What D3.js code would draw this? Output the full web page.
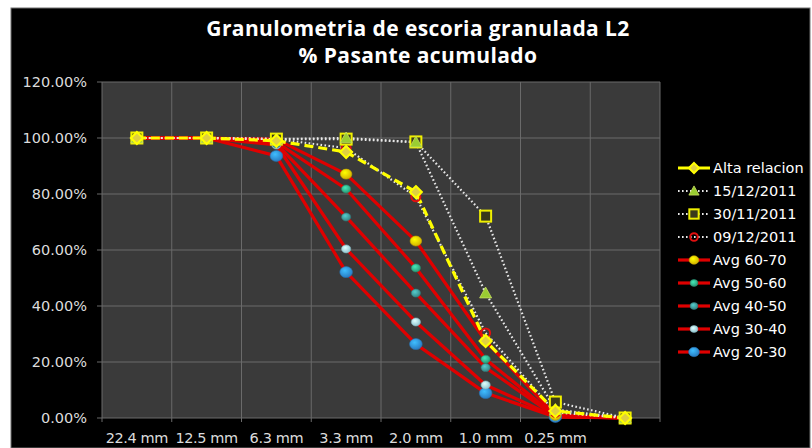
<!DOCTYPE html>
<html><head><meta charset="utf-8">
<script src="https://cdn.jsdelivr.net/npm/d3@7"></script>
<style>html,body{margin:0;padding:0;background:#fff;}svg{display:block;}</style>
</head><body>
<svg id="c" width="812" height="448"></svg>
<script>
const categories = ["22.4 mm","12.5 mm","6.3 mm","3.3 mm","2.0 mm","1.0 mm","0.25 mm",""];
const yTicks = [0,20,40,60,80,100,120];
const altaRelacion = [100,100,99,95,80.7,27.5,2.5,0];
const s15122011   = [100,100,99.6,100,98.5,44.6,3,0];
const s30112011   = [100,100,99.6,99.6,98.6,72.1,5.7,0];
const s09122011   = [100,100,99.6,96.4,79,30.4,2,0];
const avg6070 = [100,100,99.5,87.1,63.2,27.5,1,0];
const avg5060 = [100,100,98.5,81.8,53.6,21,0.8,0];
const avg4050 = [100,100,98,71.8,44.6,18,0.6,0];
const avg3040 = [100,100,97.5,60.4,34.3,11.8,0.5,0];
const avg2030 = [100,100,93.6,52.1,26.4,8.9,0.4,0];

const series = [
  {name:"Avg 20-30", v:avg2030, type:"avg", mk:"#2f8fe0", r:5.5},
  {name:"Avg 30-40", v:avg3040, type:"avg", mk:"#a8e4f0", r:4},
  {name:"Avg 40-50", v:avg4050, type:"avg", mk:"#3f9a9a", r:4},
  {name:"Avg 50-60", v:avg5060, type:"avg", mk:"#33b08a", r:4},
  {name:"Avg 60-70", v:avg6070, type:"avg", mk:"#f5d000", r:5},
  {name:"09/12/2011", v:s09122011, type:"dot", mk:"circle"},
  {name:"30/11/2011", v:s30112011, type:"dot", mk:"square"},
  {name:"15/12/2011", v:s15122011, type:"dot", mk:"triangle"},
  {name:"Alta relacion", v:altaRelacion, type:"alta", mk:"diamond"}
];
const legendOrder = ["Alta relacion","15/12/2011","30/11/2011","09/12/2011","Avg 60-70","Avg 50-60","Avg 40-50","Avg 30-40","Avg 20-30"];

const svg = d3.select("#c");
const defs = svg.append("defs");
series.filter(s=>s.type==="avg").forEach((s,i)=>{
  const g = defs.append("radialGradient").attr("id","g"+i).attr("cx","40%").attr("cy","35%").attr("r","65%");
  g.append("stop").attr("offset","0%").attr("stop-color",d3.color(s.mk).brighter(0.8));
  g.append("stop").attr("offset","100%").attr("stop-color",d3.color(s.mk).darker(0.4));
  s.grad = "url(#g"+i+")";
});

// background
svg.append("rect").attr("x",11).attr("y",8).attr("width",799).attr("height",440).attr("fill","#000").attr("stroke","#707070").attr("stroke-width",1);

const m = {l:102, r:660, t:82, b:418};
const x = d3.scaleBand().domain(categories.map((c,i)=>i)).range([m.l,m.r]);
const xc = i => x(i) + x.bandwidth()/2;
const y = d3.scaleLinear().domain([0,120]).range([m.b,m.t]);

svg.append("rect").attr("x",m.l).attr("y",m.t).attr("width",m.r-m.l).attr("height",m.b-m.t).attr("fill","#3a3a3a");

// gridlines
svg.append("g").selectAll("line").data(yTicks).join("line")
  .attr("x1",m.l-5).attr("x2",m.r).attr("y1",d=>y(d)).attr("y2",d=>y(d))
  .attr("stroke","#6a6a6a").attr("stroke-width",1);
svg.append("g").selectAll("line").data(d3.range(categories.length+1)).join("line")
  .attr("x1",d=>m.l+d*x.bandwidth()).attr("x2",d=>m.l+d*x.bandwidth())
  .attr("y1",m.t).attr("y2",m.b+4)
  .attr("stroke","#6a6a6a").attr("stroke-width",1);

// y axis labels
const fontF = "'DejaVu Sans', sans-serif";
const fontT = "'Open Sans', 'DejaVu Sans', sans-serif";
svg.append("g").selectAll("text").data(yTicks).join("text")
  .attr("x",87).attr("y",d=>y(d)).attr("dy","0.35em").attr("text-anchor","end")
  .attr("fill","#dcdcdc").attr("font-family",fontF).attr("font-size",14.5)
  .text(d=>d.toFixed(2)+"%");
// x labels
svg.append("g").selectAll("text").data(categories).join("text")
  .attr("x",(d,i)=>xc(i)).attr("y",438).attr("dy","0.35em").attr("text-anchor","middle")
  .attr("fill","#dcdcdc").attr("font-family",fontF).attr("font-size",14.5).attr("letter-spacing","-0.4")
  .text(d=>d);

// title
const t = svg.append("text").attr("x",418).attr("text-anchor","middle").attr("fill","#fff")
  .attr("font-family",fontT).attr("font-weight","bold").attr("font-size",21).attr("letter-spacing","0.4");
t.append("tspan").attr("x",418).attr("y",36).text("Granulometria de escoria granulada L2");
t.append("tspan").attr("x",418).attr("y",63).text("% Pasante acumulado");

const line = d3.line().x((d,i)=>xc(i)).y(d=>y(d));
const styleLine = (sel, s) => {
  if (s.type==="avg") sel.attr("stroke","#e00000").attr("stroke-width",3.2);
  else if (s.type==="dot") sel.attr("stroke","#e8e8e8").attr("stroke-width",2.2).attr("stroke-dasharray","1.6,2.4");
  else sel.attr("stroke","#ffff00").attr("stroke-width",3.2).attr("stroke-dasharray","9,5");
  sel.attr("fill","none").attr("stroke-linejoin","round");
};
function marker(g, s, cx, cy, scale){
  scale = scale||1;
  if (s.type==="avg") {
    g.append("ellipse").attr("cx",cx).attr("cy",cy).attr("rx",s.r*1.15*scale).attr("ry",s.r*scale)
     .attr("fill",s.grad).attr("stroke",d3.color(s.mk).darker(0.6)).attr("stroke-width",0.6);
  } else if (s.mk==="circle") {
    g.append("circle").attr("cx",cx).attr("cy",cy).attr("r",4.5*scale).attr("fill","none").attr("stroke","#e01010").attr("stroke-width",2);
  } else if (s.mk==="square") {
    const h=5.5*scale;
    g.append("rect").attr("x",cx-h).attr("y",cy-h).attr("width",2*h).attr("height",2*h).attr("fill","#3a3a1a").attr("stroke","#f0f000").attr("stroke-width",2);
  } else if (s.mk==="triangle") {
    const h=6*scale;
    g.append("path").attr("d",`M${cx},${cy-h}L${cx+h},${cy+h*0.8}L${cx-h},${cy+h*0.8}Z`).attr("fill","#9acd32").attr("stroke","#c8e060").attr("stroke-width",0.8);
  } else {
    const h=6*scale;
    g.append("path").attr("d",`M${cx},${cy-h}L${cx+h},${cy}L${cx},${cy+h}L${cx-h},${cy}Z`).attr("fill","#e0d040").attr("stroke","#ffff00").attr("stroke-width",2);
  }
}

const plot = svg.append("g");
series.forEach(s=>{
  plot.append("path").datum(s.v).attr("d",line).call(styleLine, s);
});
series.forEach(s=>{
  const g = plot.append("g");
  s.v.forEach((v,i)=>marker(g, s, xc(i), y(v)));
});

// legend
const lg = svg.append("g");
legendOrder.forEach((name,i)=>{
  const s = series.find(d=>d.name===name);
  const yy = 168 + i*23;
  lg.append("line").attr("x1",678).attr("x2",710).attr("y1",yy).attr("y2",yy).call(sel=>{
    styleLine(sel,s);
    if (s.type==="alta") sel.attr("stroke-dasharray","14,4");
  });
  marker(lg, s, 694, yy, 0.85);
  lg.append("text").attr("x",713).attr("y",yy).attr("dy","0.35em").attr("fill","#fff")
    .attr("font-family",fontF).attr("font-size",14.5).text(name);
});
</script>
</body></html>
